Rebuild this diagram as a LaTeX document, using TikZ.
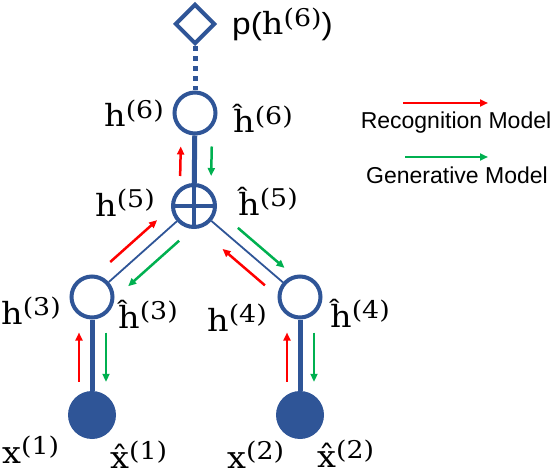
\documentclass[tikz,border=0pt]{standalone}
\usepackage{fontspec}
\setsansfont{Liberation Sans}
\newfontfamily\lblfont{DejaVu Serif}
\usepackage{tikz}
\usetikzlibrary{arrows.meta,calc,shapes.geometric}
\definecolor{netblue}{HTML}{2F5597}
\definecolor{recred}{HTML}{FF0000}
\definecolor{gengreen}{HTML}{00B050}
\newcommand{\supidx}[1]{\raisebox{2.7pt}{\fontsize{8}{8}\selectfont(#1)}}
\newcommand{\suplbl}[2]{\scalebox{3.35}[3.05]{\lblfont #1\supidx{#2}}}

\begin{document}
\begin{tikzpicture}[x=1pt, y=-1pt,
    hid/.style={draw=netblue, circle, line width=4pt, minimum size=41pt, inner sep=0pt},
    obs/.style={fill=netblue, circle, minimum size=48pt, inner sep=0pt},
    prior/.style={draw=netblue, diamond, line width=4pt, minimum width=40pt, minimum height=40pt, inner sep=0pt},
    trunk/.style={netblue, line width=5pt},
    branch/.style={netblue, line width=1.8pt},
    dots/.style={netblue, line width=5pt, dash pattern=on 5pt off 5pt},
    rec/.style={recred, line width=2.5pt, -{Triangle[length=8pt,width=7pt]}},
    gen/.style={gengreen, line width=2.5pt, -{Triangle[length=8pt,width=7pt]}},
    lbl/.style={inner sep=0pt, anchor=base west},
    legtext/.style={inner sep=0pt, font=\sffamily\fontsize{23}{26}\selectfont},
]
    \useasboundingbox (0,0) rectangle (560,476);

    % Network nodes
    \node[prior] (top) at (195,24) {};
    \node[hid] (h6) at (195,113) {};
    \node[hid, minimum size=42pt] (h5) at (194,206) {};
    \node[hid] (h3) at (92,297) {};
    \node[hid] (h4) at (300,297) {};
    \node[obs] (x1) at (92,415) {};
    \node[obs] (x2) at (300,415) {};

    % Links
    \draw[dots] (top) -- (h6);
    \draw[trunk] (h6) -- (h5);
    \draw[netblue, line width=4pt] (h5.north) -- (h5.south) (h5.west) -- (h5.east);
    \draw[branch] (h5) -- (h3);
    \draw[branch] (h5) -- (h4);
    \draw[trunk] (h3) -- (x1);
    \draw[trunk] (h4) -- (x2);

    % Recognition / generative passes
    \draw[rec, shorten <=7pt, shorten >=11pt] ([xshift=-14pt]h5.north) -- ([xshift=-14pt]h6.south);
    \draw[gen, shorten <=11pt, shorten >=7pt] ([xshift=17pt]h6.south) -- ([xshift=17pt]h5.north);
    \draw[rec] ($(h5)!0.73!(h3)!14pt!-90:(h3)$) -- ($(h5)!0.27!(h3)!14pt!-90:(h3)$);
    \draw[gen] ($(h5)!0.25!(h3)!16pt!90:(h3)$) -- ($(h5)!0.75!(h3)!16pt!90:(h3)$);
    \draw[gen] ($(h5)!0.34!(h4)!12pt!90:(h4)$) -- ($(h5)!0.78!(h4)!12pt!90:(h4)$);
    \draw[rec] ($(h5)!0.755!(h4)!14pt!-90:(h4)$) -- ($(h5)!0.355!(h4)!14pt!-90:(h4)$);
    \draw[rec, shorten <=9pt, shorten >=13pt] ([xshift=-13pt]x1.north) -- ([xshift=-13pt]h3.south);
    \draw[gen, shorten <=13pt, shorten >=9pt] ([xshift=14pt]h3.south) -- ([xshift=14pt]x1.north);
    \draw[rec, shorten <=9pt, shorten >=13pt] ([xshift=-13pt]x2.north) -- ([xshift=-13pt]h4.south);
    \draw[gen, shorten <=13pt, shorten >=9pt] ([xshift=14pt]h4.south) -- ([xshift=14pt]x2.north);

    % Labels
    \node[lbl] (ltop) at (232,35) {\scalebox{3.35}[3.05]{\sffamily p(\lblfont h\supidx{6}\sffamily )}};
    \node[lbl] (lh6) at (104,127) {\suplbl{h}{6}};
    \node[lbl] (lhh6) at (233,133) {\suplbl{\^{h}}{6}};
    \node[lbl] (lh5) at (95,216) {\suplbl{h}{5}};
    \node[lbl] (lhh5) at (238,215) {\suplbl{\^{h}}{5}};
    \node[lbl] (lh3) at (1,324) {\suplbl{h}{3}};
    \node[lbl] (lhh3) at (118,328) {\suplbl{\^{h}}{3}};
    \node[lbl] (lh4) at (207,331) {\suplbl{h}{4}};
    \node[lbl] (lhh4) at (330,327) {\suplbl{\^{h}}{4}};
    \node[lbl] (lx1) at (2,463) {\suplbl{x}{1}};
    \node[lbl] (lhx1) at (110,468) {\suplbl{\^{x}}{1}};
    \node[lbl] (lx2) at (227,468) {\suplbl{x}{2}};
    \node[lbl] (lhx2) at (317,467) {\suplbl{\^{x}}{2}};

    % Legend
    \node[legtext] (recog) at (456,123) {Recognition Model};
    \node[legtext] (gener) at (457,175) {Generative Model};
    \draw[rec] ($(recog.center)+(-53,-20)$) -- ($(recog.center)+(32,-20)$);
    \draw[gen] ($(gener.center)+(-52,-18)$) -- ($(gener.center)+(31,-18)$);
\end{tikzpicture}
\end{document}
